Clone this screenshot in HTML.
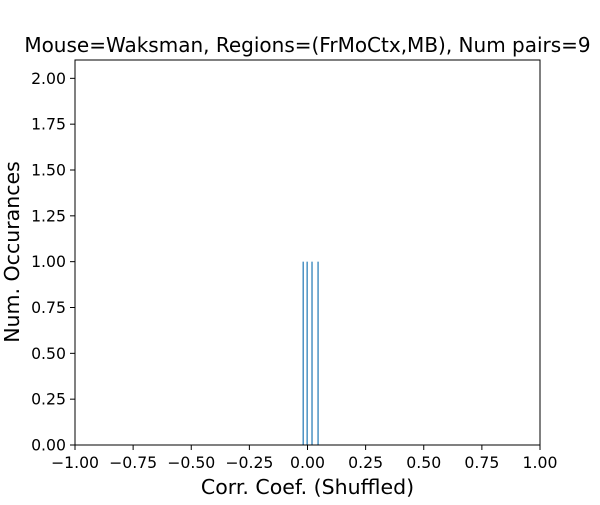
<!DOCTYPE html>
<html><head><meta charset="utf-8"><style>
body{margin:0;background:#fff;font-family:"Liberation Sans","DejaVu Sans",sans-serif}
</style></head><body>
<svg id="chart" width="600" height="500" font-family="DejaVu Sans, Liberation Sans, sans-serif">
<rect width="600" height="500" fill="#fff"/>
<g id="marks"></g>
<rect x="75" y="60" width="465" height="385" fill="none" stroke="#000" stroke-width="1"/>
<g id="axes"></g>
<text x="307.5" y="52" text-anchor="middle" font-size="20">Mouse=Waksman, Regions=(FrMoCtx,MB), Num pairs=9</text>
<text x="307.5" y="494" text-anchor="middle" font-size="20.5">Corr. Coef. (Shuffled)</text>
<text x="252" y="19" text-anchor="middle" font-size="20.5" transform="rotate(-90 252 252) translate(0,0)">Num. Occurances</text>
</svg>
<script>
const binCenters=[-0.019,-0.002,0.019,0.045];
const counts=[1,1,1,1];
const xTicks=[-1,-0.75,-0.5,-0.25,0,0.25,0.5,0.75,1];
const yTicks=[0,0.25,0.5,0.75,1,1.25,1.5,1.75,2];
const ns="http://www.w3.org/2000/svg";
function sx(v){return 75+(v+1)/2*465;}
function sy(v){return 445-v/2.1*385;}
const marks=document.getElementById('marks');
const axes=document.getElementById('axes');
binCenters.forEach((c,i)=>{
 const r=document.createElementNS(ns,'rect');
 
 
 r.setAttribute('x',sx(c)-0.5);r.setAttribute('width',1.2);
 r.setAttribute('y',sy(counts[i]));r.setAttribute('height',sy(0)-sy(counts[i]));
 r.setAttribute('fill','#1f77b4');
 marks.appendChild(r);
});
xTicks.forEach(t=>{
 const l=document.createElementNS(ns,'line');
 
 
 l.setAttribute('x1',sx(t));l.setAttribute('x2',sx(t));l.setAttribute('y1',445);l.setAttribute('y2',450);l.setAttribute('stroke','#000');
 axes.appendChild(l);
 const tx=document.createElementNS(ns,'text');
 
 
 tx.setAttribute('x',sx(t));tx.setAttribute('y',468);tx.setAttribute('text-anchor','middle');tx.setAttribute('font-size','15.7');
 tx.textContent=(t<0?'\u2212':'')+Math.abs(t).toFixed(2);
 axes.appendChild(tx);
});
yTicks.forEach(t=>{
 const l=document.createElementNS(ns,'line');
 
 
 l.setAttribute('x1',70);l.setAttribute('x2',75);l.setAttribute('y1',sy(t));l.setAttribute('y2',sy(t));l.setAttribute('stroke','#000');
 axes.appendChild(l);
 const tx=document.createElementNS(ns,'text');
 
 
 tx.setAttribute('x',66);tx.setAttribute('y',sy(t)+5.5);tx.setAttribute('text-anchor','end');tx.setAttribute('font-size','15.7');
 tx.textContent=t.toFixed(2);
 axes.appendChild(tx);
});
</script>
</body></html>
